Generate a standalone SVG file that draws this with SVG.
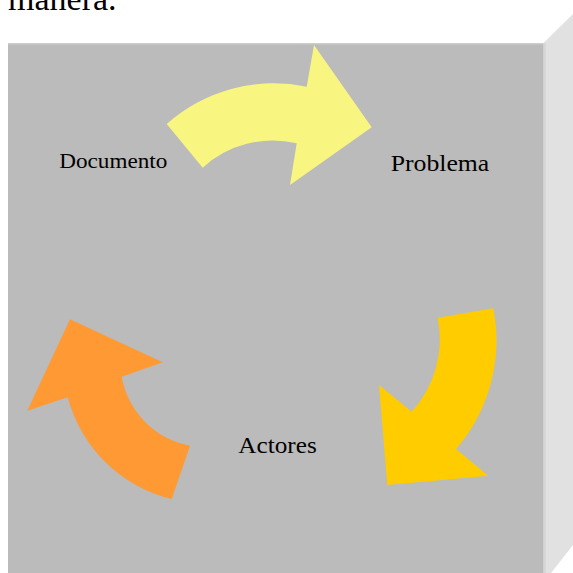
<svg xmlns="http://www.w3.org/2000/svg" width="573" height="573" viewBox="0 0 573 573">
  <style>
    .lbl { font-family: "Liberation Serif", "Times New Roman", serif; fill: #000000; }
  </style>
  <rect x="0" y="0" width="573" height="573" fill="#ffffff"/>
  <text class="lbl" x="8" y="10" font-size="34">manera.</text>
  <g id="box">
    <polygon points="543.3,43.3 573,14 573,545 551,573 543.3,573" fill="#e1e1e1"/>
    <rect x="543.3" y="43.3" width="2.5" height="530" fill="#d6d6d6"/>
    <rect x="8" y="43.3" width="535.3" height="530" fill="#bbbbbb"/>
    <rect x="8" y="43.3" width="535.3" height="1.2" fill="#cccccc"/>
  </g>
  <g id="connectors">
    <path id="arrow-doc-prob" d="M 166.7,124 A 161 161 0 0 1 306.7,86.7 L 314,45 L 371.7,127.3 L 290,185 L 296.7,143.3 A 104 104 0 0 0 202.7,167.7 Z" fill="#f8f580"/>
    <path id="arrow-prob-act" d="M 493.3,308.3 A 166 166 0 0 1 456,449 L 488.3,475.7 L 387.3,485 L 379,385 L 411.7,411.7 A 108 108 0 0 0 437.7,317.7 Z" fill="#ffcc00"/>
    <path id="arrow-act-doc" d="M 171.7,499 A 142.5 142.5 0 0 1 67.7,397.3 L 27.3,410.7 L 70,319.3 L 162.7,362.3 L 121.7,376.7 A 85 85 0 0 0 190,445.7 Z" fill="#ff9933"/>
  </g>
  <g id="node-documento">
    <text class="lbl" x="59.3" y="168.3" font-size="21" textLength="108" lengthAdjust="spacingAndGlyphs">Documento</text>
  </g>
  <g id="node-problema">
    <text class="lbl" x="390.7" y="171" font-size="24" textLength="98.6" lengthAdjust="spacingAndGlyphs">Problema</text>
  </g>
  <g id="node-actores">
    <text class="lbl" x="238.3" y="453.3" font-size="24" textLength="78.4" lengthAdjust="spacingAndGlyphs">Actores</text>
  </g>
</svg>
